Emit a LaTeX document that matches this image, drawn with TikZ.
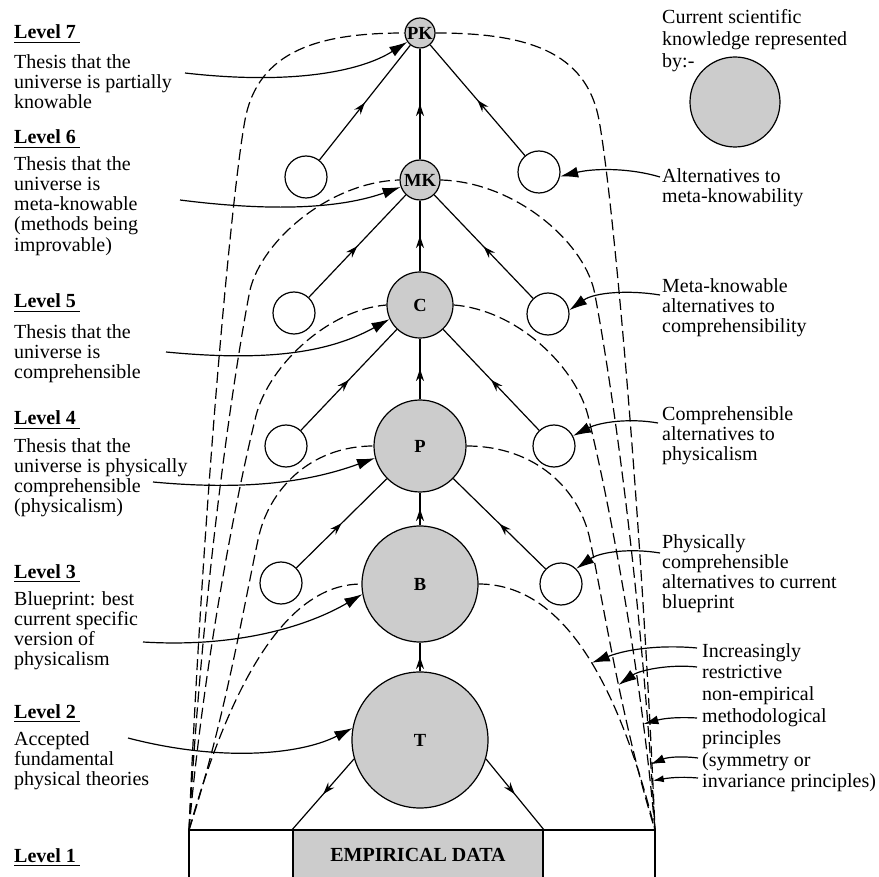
\documentclass[tikz,border=0pt]{standalone}
\usepackage{fontspec}
\setmainfont{Liberation Serif}
\usetikzlibrary{arrows.meta,decorations.markings}

\begin{document}
\begin{tikzpicture}[x=1pt, y=-1pt]
\tikzset{know/.style={circle, draw, line width=1.2pt, fill=black!20, inner sep=0pt, font=\bfseries\fontsize{18.5}{18.5}\selectfont}}
\tikzset{alt/.style={circle, draw, line width=1.2pt, fill=white, inner sep=0pt, minimum size=42pt}}
\tikzset{flow/.style={line width=1.2pt, postaction={decorate}, decoration={markings, mark=at position 0.5 with {\arrow{Stealth[length=12pt,width=8pt,inset=4pt]}}}}}
\tikzset{arch/.style={line width=1.2pt, dash pattern=on 11pt off 5pt}}
\tikzset{ptr/.style={line width=1.2pt, -{Latex[length=18pt,width=11pt]}}}
\tikzset{txt/.style={anchor=north west, align=left, inner sep=0pt, font=\fontsize{20}{20.3}\selectfont}}
\tikzset{lvl/.style={anchor=base west, inner sep=0pt, font=\bfseries\fontsize{20}{20}\selectfont}}
\tikzset{databox/.style={draw, line width=1.2pt, fill=black!20, minimum width=250pt, minimum height=50pt, font=\bfseries\fontsize{20}{20}\selectfont}}

\useasboundingbox (0,0) rectangle (879,877);

% knowledge nodes
\node[know, minimum size=30pt] (PK) at (420,33) {PK};
\node[know, minimum size=40pt] (MK) at (420,180) {MK};
\node[know, minimum size=66pt] (C) at (420,305) {C};
\node[know, minimum size=92pt] (P) at (420,446) {P};
\node[know, minimum size=116pt] (B) at (420,584) {B};
\node[know, minimum size=136pt] (T) at (420,740) {T};
\node[know, minimum size=90pt] (key) at (735,102) {};

% alternatives
\foreach \s/\x/\y in {6/306/177, 5/294/313, 4/286/446, 3/281/583}
  \node[alt] (al\s) at (\x,\y) {};
\foreach \s/\x/\y in {6/539/172, 5/548/314, 4/554/446, 3/561/584}
  \node[alt] (ar\s) at (\x,\y) {};

% empirical data
\coordinate (lc) at (189,830);
\coordinate (rc) at (655,830);
\node[databox] (data) at (418,855) {EMPIRICAL DATA};
\draw[line width=1.2pt] (189,880) -- (lc) -- (rc) -- (655,880);

\draw[flow] (T) -- (B);
\draw[flow] (B) -- (P);
\draw[flow] (P) -- (C);
\draw[flow] (C) -- (MK);
\draw[flow] (MK) -- (PK);
\foreach \s/\t in {6/PK, 5/MK, 4/C, 3/P} {
  \draw[flow] (al\s) -- (\t);
  \draw[flow] (ar\s) -- (\t);
}
\draw[flow] (T.196) -- (data.north west);
\draw[flow] (T.-16) -- (data.north east);

% methodological principles
\draw[arch] (lc) .. controls (240,650) and (300,584) .. (B.west)
  (B.east) .. controls (548,584) and (610,650) .. coordinate[pos=0.59] (t1) (rc);
\draw[arch] (lc) .. controls (225,720) and (245,600) .. (258,540) .. controls (268,490) and (310,446) .. (P.west)
  (P.east) .. controls (536,446) and (580,490) .. (590,540) .. controls (603,600) and (621,720) .. coordinate[pos=0.56] (t2) (rc);
\draw[arch] (lc) .. controls (205,650) and (240,480) .. (255,420) .. controls (265,370) and (325,310) .. (C.west)
  (C.east) .. controls (519,310) and (579,370) .. (589,420) .. controls (604,480) and (639,650) .. coordinate[pos=0.8] (t3) (rc);
\draw[arch] (lc) .. controls (205,550) and (240,340) .. (250,290) .. controls (262,240) and (330,182) .. (MK.west)
  (MK.east) .. controls (514,182) and (582,240) .. (594,290) .. controls (604,340) and (639,550) .. coordinate[pos=0.92] (t4) (rc);
\draw[arch] (lc) .. controls (203,500) and (232,190) .. (245,120) .. controls (258,50) and (320,33) .. (PK.west)
  (PK.east) .. controls (524,33) and (586,50) .. (599,120) .. controls (612,190) and (641,500) .. coordinate[pos=0.95] (t5) (rc);

% level labels
\foreach \n/\y in {7/39, 6/144, 5/308, 4/425, 3/578, 2/718, 1/862} {
  \node[lvl] (lv\n) at (14,\y) {Level \n};
  \draw[line width=1.2pt] (lv\n.base west) ++(0,3.5) -- ++(66,0);
}

\node[txt] (d7) at (14,54) {Thesis that the\\universe is partially\\knowable};
\node[txt] (d6) at (14,156) {Thesis that the\\universe is\\meta-knowable\\(methods being\\improvable)};
\node[txt] (d5) at (14,324) {Thesis that the\\universe is\\comprehensible};
\node[txt] (d4) at (14,438) {Thesis that the\\universe is physically\\comprehensible\\(physicalism)};
\node[txt] (d3) at (14,591) {Blueprint: best\\current specific\\version of\\physicalism};
\node[txt] (d2) at (14,731) {Accepted\\fundamental\\physical theories};

\node[txt, font=\fontsize{20}{22}\selectfont] (keytxt) at (662,9) {Current scientific\\knowledge represented\\by:-};
\node[txt] (e6) at (662,168) {Alternatives to\\meta-knowability};
\node[txt] (e5) at (662,278) {Meta-knowable\\alternatives to\\comprehensibility};
\node[txt] (e4) at (662,406) {Comprehensible\\alternatives to\\physicalism};
\node[txt] (e3) at (662,534) {Physically\\comprehensible\\alternatives to current\\blueprint};
\node[txt, font=\fontsize{20}{21.8}\selectfont] (e2) at (702,643) {Increasingly\\restrictive\\non-empirical\\methodological\\principles\\(symmetry or\\invariance principles)};

% pointers
\coordinate (s7) at (185,73);
\coordinate (s6) at (180,200);
\coordinate (s5) at (166,352);
\coordinate (s4) at (153,482);
\coordinate (s3) at (143,642);
\coordinate (s2) at (128,738);
\draw[ptr] (s7) .. controls (290,85) and (360,72) .. (PK.215);
\draw[ptr] (s6) .. controls (290,214) and (350,205) .. (MK.200);
\draw[ptr] (s5) .. controls (270,362) and (330,352) .. (C.205);
\draw[ptr] (s4) .. controls (260,492) and (320,478) .. (P.195);
\draw[ptr] (s3) .. controls (240,648) and (310,625) .. (B.190);
\draw[ptr] (s2) .. controls (220,762) and (300,755) .. (T.170);

\coordinate (r6) at (660,177);
\coordinate (r5) at (660,295);
\coordinate (r4) at (658,423);
\coordinate (r3) at (660,553);
\draw[ptr] (r6) .. controls (630,168) and (595,168) .. (ar6.-12);
\draw[ptr] (r5) .. controls (630,290) and (595,292) .. (ar5.10);
\draw[ptr] (r4) .. controls (630,418) and (600,422) .. (ar4.28);
\draw[ptr] (r3) .. controls (630,548) and (600,552) .. (ar3.45);

\coordinate (q1) at (697,648);
\coordinate (q2) at (697,667);
\coordinate (q3) at (697,718);
\coordinate (q4) at (698,758);
\coordinate (q5) at (698,778);
\draw[ptr] (q1) .. controls (665,645) and (630,648) .. (t1);
\draw[ptr] (q2) .. controls (670,664) and (640,670) .. (t2);
\draw[ptr, -{Latex[length=15pt,width=9pt]}] (q3) .. controls (680,717) and (665,718) .. (t3);
\draw[ptr, -{Latex[length=14pt,width=9pt]}] (q4) .. controls (682,756) and (668,757) .. (t4);
\draw[ptr, -{Latex[length=11pt,width=7pt]}] (q5) .. controls (686,777) and (674,777) .. (t5);
\end{tikzpicture}
\end{document}
